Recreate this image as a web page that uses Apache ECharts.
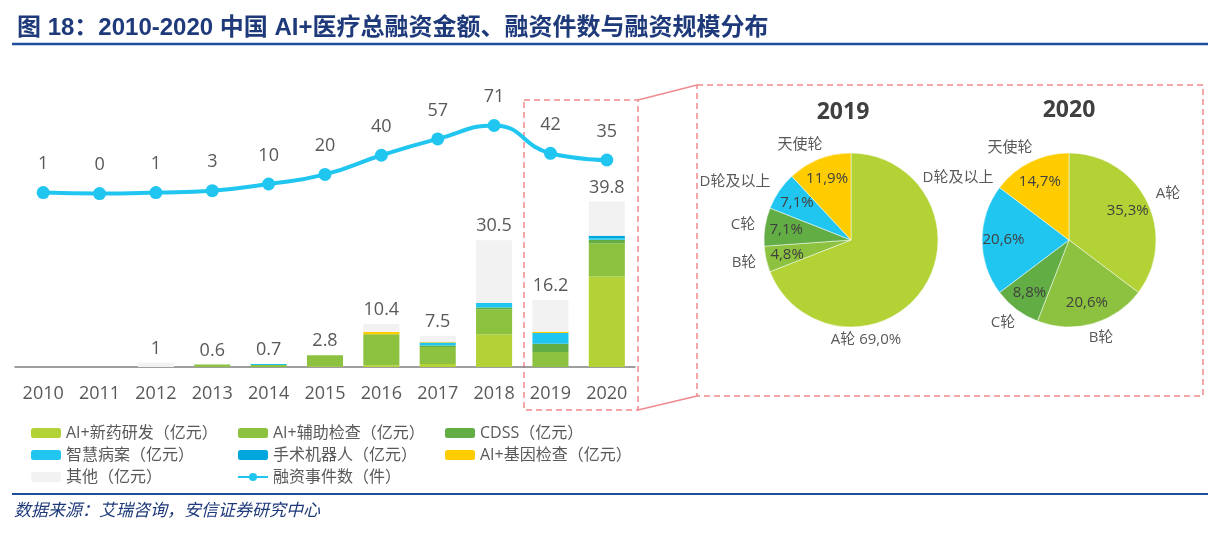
<!doctype html>
<html lang="zh">
<head>
    <meta charset="UTF-8">
    <title>2010-2020 中国 AI+医疗融资</title>
    <script src="https://cdn.jsdelivr.net/npm/echarts@6/dist/echarts.min.js"></script>
    <style>
        html, body { margin: 0; padding: 0; background: #fff; }
        #main { width: 1222px; height: 533px; }
    </style>
</head>
<body>
<div id="main"></div>
<script type="text/javascript">
    // 年份
    var years = ['2010', '2011', '2012', '2013', '2014', '2015', '2016', '2017', '2018', '2019', '2020'];
    // 各领域融资金额（亿元）
    var drugRD = [0, 0, 0, 0, 0, 0.2, 0.4, 0.7, 7.8, 0, 21.8];
    var auxExam = [0, 0, 0, 0.6, 0.5, 2.6, 7.5, 4.1, 6.1, 3.6, 8.0];
    var cdss = [0, 0, 0, 0, 0, 0, 0, 0.4, 0.4, 2.0, 0.8];
    var records = [0, 0, 0, 0, 0.2, 0, 0, 0.7, 1.1, 2.6, 0.4];
    var robot = [0, 0, 0, 0, 0, 0, 0, 0, 0, 0, 0.6];
    var gene = [0, 0, 0, 0, 0, 0, 0.5, 0.2, 0, 0.3, 0];
    var other = [0, 0, 1.0, 0, 0, 0, 2.0, 1.4, 15.1, 7.7, 8.2];
    // 总金额标签
    var totals = [null, null, 1, 0.6, 0.7, 2.8, 10.4, 7.5, 30.5, 16.2, 39.8];
    // 融资事件数（件）
    var dealCount = [1, 0, 1, 3, 10, 20, 40, 57, 71, 42, 35];
    // 融资规模分布
    var rounds = ['A轮', 'B轮', 'C轮', 'D轮及以上', '天使轮'];
    var share2019 = [69.0, 4.8, 7.1, 7.1, 11.9];
    var share2020 = [35.3, 20.6, 8.8, 20.6, 14.7];

    var colors = ['#b2d235', '#8cc23f', '#63ad45', '#21c6f0', '#00a6dc', '#ffcc00', '#f2f2f2'];
    var roundColors = ['#b2d235', '#8cc23f', '#63ad45', '#21c6f0', '#ffcc00'];
    var txt = '#595959';
    var pink = '#f08a8f';
    var font = '"Open Sans", "Noto Sans CJK SC", sans-serif';

    var names = ['AI+新药研发（亿元）', 'AI+辅助检查（亿元）', 'CDSS（亿元）', '智慧病案（亿元）',
        '手术机器人（亿元）', 'AI+基因检查（亿元）', '其他（亿元）'];
    var lineName = '融资事件数（件）';
    var stacks = [drugRD, auxExam, cdss, records, robot, gene, other];

    // 饼图外侧名称标签相对圆心的偏移
    var nameOffset2019 = [[15, 100], [-107, 23], [-108, -15], [-116, -58], [-51, -95]];
    var nameOffset2020 = [[99, -46], [32, 98], [-66, 83], [-111, -62], [-59, -92]];

    var pct = function (v) {
        return v.toFixed(1).replace('.', ',') + '%';
    };

    //柱状图系列
    var series = [];
    stacks.forEach(function (arr, i) {
        var s = {
            name: names[i],
            type: 'bar',
            stack: 'amount',
            barWidth: '64%',
            itemStyle: { color: colors[i] },
            data: arr
        };
        if (i === stacks.length - 1) {
            s.label = {
                show: true,
                position: 'top',
                distance: 5,
                color: txt,
                fontSize: 18,
                fontFamily: font,
                formatter: function (p) {
                    return totals[p.dataIndex] === null ? '' : String(totals[p.dataIndex]);
                }
            };
        }
        series.push(s);
    });

    //融资事件数折线
    series.push({
        name: lineName,
        type: 'line',
        yAxisIndex: 1,
        smooth: true,
        symbol: 'circle',
        symbolSize: 13,
        lineStyle: { color: '#21c6f0', width: 4 },
        itemStyle: { color: '#21c6f0' },
        label: {
            show: true,
            position: 'top',
            distance: 13,
            color: txt,
            fontSize: 18,
            fontFamily: font
        },
        data: dealCount
    });

    //饼图
    var makePie = function (share, cx, offsets, withNameOnA) {
        var visible = [], inner = [];
        share.forEach(function (v, i) {
            var item = { name: rounds[i], value: v, itemStyle: { color: roundColors[i] } };
            if (i === 0 && withNameOnA) {
                item.label = { formatter: rounds[i] + ' ' + pct(v) };
            }
            visible.push(item);
            var it2 = { name: rounds[i], value: v };
            if (i === 0 && withNameOnA) {
                it2.label = { show: false };
            }
            inner.push(it2);
        });
        return [{
            type: 'pie',
            center: [cx, 240],
            radius: [0, 87],
            startAngle: 90,
            silent: true,
            avoidLabelOverlap: false,
            itemStyle: { borderColor: '#fff', borderWidth: 0.5 },
            label: {
                show: true,
                position: 'outside',
                color: txt,
                fontSize: 15,
                fontFamily: font,
                formatter: '{b}'
            },
            labelLine: { show: false, length: 6, length2: 0 },
            labelLayout: function (p) {
                var o = offsets[p.dataIndex];
                return { x: cx + o[0], y: 240 + o[1], align: 'center', verticalAlign: 'middle' };
            },
            data: visible
        }, {
            type: 'pie',
            center: [cx, 240],
            radius: [38, 87],
            startAngle: 90,
            silent: true,
            avoidLabelOverlap: false,
            itemStyle: { color: 'rgba(0,0,0,0)' },
            label: {
                show: true,
                position: 'inside',
                color: '#404040',
                fontSize: 15,
                fontFamily: font,
                formatter: function (p) { return pct(p.value); }
            },
            labelLine: { show: false },
            data: inner
        }];
    };
    series = series.concat(makePie(share2019, 851, nameOffset2019, true), makePie(share2020, 1069, nameOffset2020, false));

    var legendBase = {
        orient: 'vertical',
        top: 420,
        itemWidth: 30,
        itemHeight: 10,
        itemGap: 6,
        textStyle: { color: txt, fontSize: 16, fontFamily: font }
    };

    var option = {
        backgroundColor: '#fff',
        animation: false,
        title: [{
            text: '图 18：2010-2020 中国 AI+医疗总融资金额、融资件数与融资规模分布',
            left: 12, top: 11,
            textStyle: { color: '#1f3a7a', fontSize: 24, fontWeight: 'bold', fontFamily: '"Liberation Sans", "Noto Sans CJK SC", sans-serif' }
        }, {
            text: '2019', left: 838, top: 107, textAlign: 'center', textVerticalAlign: 'middle',
            textStyle: { color: '#404040', fontSize: 23, fontWeight: 'bold', fontFamily: font }
        }, {
            text: '2020', left: 1064, top: 105, textAlign: 'center', textVerticalAlign: 'middle',
            textStyle: { color: '#404040', fontSize: 23, fontWeight: 'bold', fontFamily: font }
        }],
        legend: [
            Object.assign({}, legendBase, { left: 26, data: [names[0], names[3], names[6]] }),
            Object.assign({}, legendBase, { left: 232, data: [names[1], names[4], lineName] }),
            Object.assign({}, legendBase, { left: 440, data: [names[2], names[5]] })
        ],
        grid: { left: 15, right: 587, top: 80, bottom: 166 },
        xAxis: {
            type: 'category',
            data: years,
            axisLine: { lineStyle: { color: '#7f7f7f', width: 1.5 } },
            axisTick: { show: false },
            axisLabel: { color: txt, fontSize: 18, fontFamily: font, margin: 18 }
        },
        yAxis: [
            { type: 'value', min: 0, max: 69.07, show: false, splitLine: { show: false } },
            { type: 'value', min: -181, max: 118.5, show: false, splitLine: { show: false } }
        ],
        graphic: [
            { type: 'line', shape: { x1: 12, y1: 44, x2: 1208, y2: 44 }, style: { stroke: '#1f4e9a', lineWidth: 2.5 } },
            { type: 'line', shape: { x1: 12, y1: 494, x2: 1208, y2: 494 }, style: { stroke: '#1f4e9a', lineWidth: 2 } },
            {
                type: 'text', left: 14, top: 501,
                style: { text: '数据来源：艾瑞咨询，安信证券研究中心', fill: '#1f3a7a', fontSize: 17, fontStyle: 'italic', fontFamily: '"Noto Sans CJK SC", sans-serif' }
            },
            //虚线框
            { type: 'rect', shape: { x: 524, y: 100, width: 114, height: 310 }, style: { fill: 'none', stroke: pink, lineWidth: 1.5, lineDash: [6, 4] } },
            { type: 'rect', shape: { x: 697, y: 85, width: 506, height: 311 }, style: { fill: 'none', stroke: pink, lineWidth: 1.5, lineDash: [6, 4] } },
            { type: 'line', shape: { x1: 638, y1: 100, x2: 697, y2: 85 }, style: { stroke: pink, lineWidth: 1.5 } },
            { type: 'line', shape: { x1: 638, y1: 410, x2: 697, y2: 396 }, style: { stroke: pink, lineWidth: 1.5 } }
        ],
        series: series
    };

    var myChart = echarts.init(document.getElementById('main'));
    myChart.setOption(option);
</script>
</body>
</html>
